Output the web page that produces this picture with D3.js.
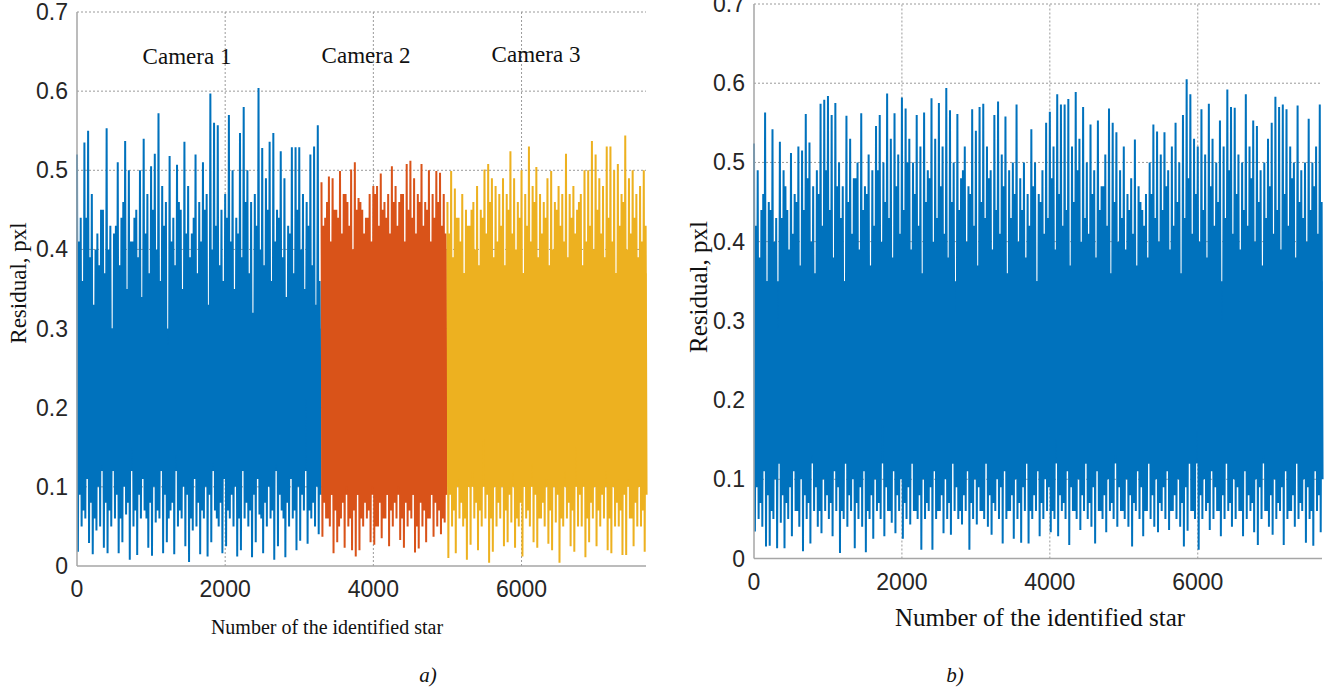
<!DOCTYPE html>
<html>
<head>
<meta charset="utf-8">
<script src="https://cdn.jsdelivr.net/npm/d3@7"></script>
<style>
  html, body { margin: 0; padding: 0; background: #fff; }
  svg { display: block; }
</style>
</head>
<body>
<svg id="fig" width="1325" height="698"></svg>
<script>
// residuals read off in steps of 50 stars:
// xxTop / xxBottom = spike and dip at the start of each step,
// xxTopB / xxBottomB = spike and dip in its second half
var step = 50;
var xMax = 7680;
var yTicks = [0, 0.1, 0.2, 0.3, 0.4, 0.5, 0.6, 0.7];
var xTicks = [0, 2000, 4000, 6000];

// panel a) - three cameras
var cameraNames = ["Camera 1", "Camera 2", "Camera 3"];
var cameraStart = [0, 3300, 5000];
var cameraColors = ["#0072BD", "#D95319", "#EDB120"];
// range that every star of a camera's trace crosses (solid part of the plot)
var denseTop = [0.30, 0.40, 0.37];
var denseBottom = [0.12, 0.09, 0.10];

var cam1Top = [0.52,0.44,0.535,0.55,0.47,0.40,0.38,0.45,0.553,0.43,0.42,0.51,0.44,0.537,0.50,0.41,0.45,0.50,0.54,0.47,
  0.505,0.521,0.572,0.48,0.46,0.518,0.44,0.507,0.45,0.536,0.48,0.42,0.52,0.46,0.51,0.47,0.597,0.56,0.557,0.45,
  0.47,0.57,0.50,0.44,0.547,0.58,0.50,0.46,0.47,0.604,0.528,0.49,0.536,0.547,0.45,0.524,0.49,0.43,0.529,0.529,
  0.529,0.47,0.46,0.52,0.53,0.557];
var cam1Bottom = [0.018,0.05,0.06,0.029,0.015,0.045,0.05,0.023,0.016,0.05,0.06,0.016,0.03,0.065,0.008,0.05,0.014,0.06,0.07,0.023,
  0.013,0.055,0.06,0.016,0.03,0.07,0.015,0.05,0.06,0.025,0.005,0.045,0.05,0.015,0.06,0.012,0.03,0.07,0.05,0.016,
  0.025,0.06,0.05,0.012,0.02,0.06,0.05,0.011,0.03,0.065,0.016,0.05,0.06,0.008,0.025,0.07,0.011,0.05,0.06,0.02,
  0.032,0.07,0.028,0.06,0.05,0.04];
var cam1TopB = [0.41,0.36,0.44,0.39,0.33,0.42,0.45,0.37,0.40,0.30,0.43,0.38,0.46,0.35,0.41,0.44,0.39,0.34,0.42,0.37,
  0.45,0.40,0.36,0.43,0.28,0.41,0.38,0.46,0.35,0.42,0.39,0.44,0.37,0.41,0.45,0.33,0.40,0.43,0.38,0.36,
  0.44,0.41,0.35,0.42,0.39,0.46,0.37,0.32,0.43,0.40,0.38,0.45,0.36,0.41,0.44,0.39,0.34,0.42,0.37,0.45,
  0.40,0.35,0.43,0.38,0.33,0.36];
var cam1BottomB = [0.09,0.07,0.11,0.08,0.06,0.10,0.13,0.08,0.07,0.12,0.09,0.06,0.10,0.08,0.15,0.07,0.09,0.11,0.06,0.08,
  0.10,0.07,0.12,0.09,0.06,0.08,0.14,0.07,0.10,0.09,0.06,0.11,0.08,0.07,0.10,0.09,0.13,0.06,0.08,0.11,
  0.07,0.09,0.10,0.06,0.12,0.08,0.07,0.09,0.11,0.06,0.08,0.10,0.07,0.13,0.09,0.06,0.08,0.11,0.07,0.10,
  0.09,0.21,0.07,0.08,0.10,0.09];

var cam2Top = [0.485,0.44,0.492,0.49,0.45,0.499,0.47,0.46,0.501,0.51,0.465,0.45,0.44,0.47,0.48,0.48,0.496,0.46,0.47,0.505,
  0.48,0.46,0.47,0.508,0.512,0.49,0.47,0.508,0.46,0.50,0.47,0.499,0.497,0.47];
var cam2Bottom = [0.037,0.06,0.05,0.016,0.03,0.06,0.023,0.05,0.02,0.012,0.02,0.05,0.06,0.03,0.027,0.05,0.035,0.06,0.025,0.05,
  0.06,0.033,0.023,0.05,0.06,0.017,0.022,0.05,0.03,0.06,0.037,0.05,0.04,0.055];
var cam2TopB = [0.43,0.46,0.41,0.45,0.44,0.42,0.47,0.43,0.40,0.45,0.46,0.42,0.44,0.41,0.47,0.43,0.45,0.44,0.42,0.46,
  0.43,0.47,0.41,0.45,0.44,0.42,0.46,0.43,0.45,0.41,0.44,0.46,0.43,0.42];
var cam2BottomB = [0.08,0.06,0.09,0.07,0.05,0.08,0.10,0.06,0.07,0.09,0.06,0.08,0.07,0.10,0.05,0.08,0.06,0.09,0.07,0.08,
  0.10,0.06,0.08,0.07,0.09,0.05,0.08,0.07,0.06,0.09,0.08,0.07,0.06,0.09];

var cam3Top = [0.46,0.499,0.477,0.44,0.47,0.45,0.43,0.46,0.48,0.45,0.501,0.508,0.49,0.48,0.47,0.49,0.47,0.524,0.49,0.46,
  0.50,0.47,0.53,0.48,0.504,0.47,0.46,0.49,0.499,0.46,0.48,0.47,0.521,0.47,0.48,0.45,0.47,0.50,0.50,0.537,
  0.52,0.49,0.48,0.53,0.53,0.50,0.508,0.47,0.544,0.49,0.50,0.47,0.48,0.50];
var cam3Bottom = [0.01,0.05,0.016,0.06,0.05,0.008,0.027,0.06,0.02,0.05,0.06,0.004,0.018,0.05,0.06,0.025,0.03,0.055,0.023,0.05,
  0.012,0.06,0.05,0.03,0.023,0.06,0.05,0.028,0.02,0.055,0.004,0.05,0.06,0.025,0.018,0.05,0.05,0.011,0.03,0.06,
  0.025,0.05,0.06,0.02,0.016,0.05,0.05,0.014,0.014,0.06,0.025,0.05,0.05,0.018];
var cam3TopB = [0.42,0.39,0.44,0.41,0.37,0.43,0.45,0.40,0.38,0.44,0.42,0.46,0.39,0.41,0.43,0.38,0.45,0.42,0.40,0.44,
  0.37,0.43,0.41,0.46,0.39,0.42,0.44,0.38,0.40,0.45,0.43,0.41,0.39,0.44,0.42,0.46,0.38,0.41,0.43,0.40,
  0.45,0.42,0.39,0.44,0.41,0.37,0.43,0.46,0.40,0.42,0.44,0.39,0.41,0.43];
var cam3BottomB = [0.09,0.07,0.11,0.08,0.06,0.10,0.12,0.08,0.07,0.16,0.09,0.06,0.10,0.08,0.11,0.07,0.09,0.12,0.06,0.08,
  0.10,0.07,0.13,0.09,0.06,0.08,0.11,0.07,0.10,0.09,0.06,0.12,0.08,0.07,0.15,0.09,0.11,0.06,0.08,0.10,
  0.07,0.09,0.12,0.06,0.10,0.08,0.07,0.09,0.11,0.06,0.08,0.10,0.07,0.09];

// panel b) - all cameras together
var allColor = "#0072BD";
var allDenseTop = 0.35;
var allDenseBottom = 0.12;
var allTop = [0.524,0.49,0.44,0.563,0.45,0.542,0.43,0.526,0.49,0.44,0.512,0.46,0.52,0.515,0.561,0.525,0.47,0.49,0.574,0.579,
  0.584,0.56,0.575,0.50,0.47,0.559,0.53,0.48,0.50,0.562,0.47,0.51,0.49,0.546,0.56,0.50,0.587,0.53,0.562,0.51,
  0.582,0.568,0.53,0.50,0.56,0.52,0.563,0.49,0.581,0.53,0.575,0.52,0.594,0.566,0.50,0.561,0.48,0.52,0.47,0.567,
  0.54,0.57,0.574,0.52,0.49,0.56,0.577,0.51,0.558,0.49,0.50,0.573,0.48,0.50,0.46,0.542,0.50,0.46,0.49,0.55,
  0.564,0.52,0.586,0.573,0.573,0.58,0.52,0.589,0.53,0.57,0.50,0.548,0.49,0.553,0.47,0.51,0.568,0.55,0.538,0.49,
  0.52,0.46,0.48,0.529,0.47,0.44,0.46,0.50,0.548,0.539,0.51,0.538,0.49,0.52,0.55,0.50,0.56,0.605,0.586,0.53,
  0.52,0.567,0.51,0.574,0.53,0.50,0.553,0.52,0.592,0.57,0.569,0.51,0.50,0.586,0.52,0.553,0.546,0.49,0.50,0.53,
  0.55,0.583,0.57,0.573,0.567,0.52,0.50,0.572,0.49,0.50,0.555,0.50,0.52,0.573];
var allBottom = [0.034,0.05,0.04,0.015,0.016,0.05,0.013,0.045,0.013,0.05,0.028,0.06,0.04,0.009,0.05,0.019,0.06,0.04,0.032,0.06,
  0.05,0.028,0.06,0.007,0.05,0.04,0.06,0.013,0.05,0.04,0.008,0.05,0.025,0.06,0.05,0.028,0.06,0.045,0.032,0.06,
  0.025,0.05,0.043,0.06,0.05,0.011,0.05,0.06,0.011,0.05,0.06,0.032,0.05,0.03,0.06,0.05,0.043,0.06,0.011,0.05,
  0.043,0.06,0.05,0.04,0.03,0.06,0.05,0.019,0.05,0.06,0.025,0.05,0.02,0.06,0.019,0.05,0.06,0.028,0.05,0.06,
  0.033,0.05,0.028,0.06,0.05,0.017,0.06,0.05,0.036,0.06,0.05,0.04,0.019,0.06,0.05,0.033,0.06,0.05,0.04,0.06,
  0.05,0.04,0.015,0.06,0.05,0.028,0.06,0.05,0.04,0.033,0.06,0.05,0.036,0.06,0.05,0.04,0.015,0.035,0.06,0.05,
  0.011,0.05,0.06,0.036,0.05,0.06,0.028,0.05,0.06,0.04,0.05,0.06,0.028,0.05,0.06,0.033,0.017,0.05,0.06,0.04,
  0.03,0.05,0.06,0.017,0.05,0.06,0.04,0.05,0.06,0.02,0.05,0.016,0.06,0.033];
var allTopB = [0.42,0.38,0.46,0.35,0.44,0.40,0.29,0.43,0.47,0.39,0.41,0.45,0.37,0.44,0.48,0.40,0.36,0.46,0.42,0.49,
  0.44,0.38,0.47,0.43,0.35,0.45,0.41,0.48,0.39,0.44,0.46,0.37,0.42,0.49,0.40,0.45,0.43,0.38,0.47,0.41,
  0.44,0.50,0.39,0.46,0.42,0.36,0.45,0.48,0.40,0.43,0.47,0.41,0.38,0.45,0.31,0.44,0.49,0.40,0.46,0.42,
  0.37,0.45,0.43,0.48,0.39,0.44,0.41,0.47,0.36,0.43,0.46,0.40,0.44,0.38,0.42,0.47,0.35,0.45,0.41,0.43,
  0.48,0.39,0.46,0.42,0.44,0.37,0.45,0.49,0.40,0.43,0.41,0.46,0.38,0.44,0.47,0.42,0.36,0.45,0.40,0.43,
  0.39,0.44,0.41,0.37,0.45,0.42,0.38,0.46,0.43,0.40,0.44,0.47,0.39,0.42,0.45,0.36,0.43,0.48,0.41,0.46,
  0.40,0.44,0.38,0.47,0.42,0.45,0.30,0.43,0.49,0.41,0.46,0.39,0.44,0.42,0.48,0.40,0.45,0.37,0.43,0.47,
  0.41,0.44,0.39,0.46,0.42,0.48,0.38,0.45,0.43,0.40,0.44,0.47,0.41,0.45];
var allBottomB = [0.09,0.07,0.11,0.08,0.06,0.10,0.12,0.08,0.07,0.09,0.11,0.06,0.10,0.08,0.07,0.13,0.09,0.06,0.10,0.08,
  0.07,0.11,0.09,0.06,0.12,0.08,0.10,0.07,0.09,0.11,0.06,0.08,0.10,0.07,0.17,0.09,0.06,0.11,0.08,0.10,
  0.07,0.09,0.12,0.06,0.08,0.10,0.07,0.09,0.11,0.06,0.08,0.10,0.07,0.12,0.09,0.06,0.08,0.11,0.07,0.10,
  0.09,0.06,0.12,0.08,0.07,0.10,0.09,0.11,0.06,0.08,0.10,0.07,0.09,0.12,0.06,0.08,0.11,0.07,0.10,0.09,
  0.06,0.15,0.08,0.07,0.11,0.09,0.06,0.10,0.08,0.12,0.07,0.09,0.11,0.06,0.08,0.10,0.07,0.13,0.09,0.06,
  0.10,0.08,0.07,0.11,0.09,0.06,0.12,0.08,0.10,0.07,0.09,0.11,0.06,0.08,0.10,0.07,0.09,0.12,0.06,0.16,
  0.08,0.10,0.07,0.11,0.09,0.06,0.08,0.12,0.07,0.10,0.09,0.06,0.11,0.08,0.07,0.10,0.09,0.13,0.06,0.08,
  0.10,0.07,0.09,0.11,0.06,0.08,0.12,0.07,0.10,0.09,0.06,0.11,0.08,0.10];

var svg = d3.select("#fig");
var serif = "'Liberation Serif', 'Times New Roman', serif";
var sans = "'Liberation Sans', Arial, Helvetica, sans-serif";

function toPoints(s) {
  var pts = [];
  s.top.forEach(function(t, i) {
    var x0 = (s.first + i) * step;
    pts.push([x0, t]);
    pts.push([x0 + step / 4, s.bottom[i]]);
    pts.push([x0 + step / 2, s.topB[i]]);
    pts.push([x0 + 3 * step / 4, s.bottomB[i]]);
  });
  return pts;
}

function drawPanel(p) {
  var x = d3.scaleLinear().domain([0, xMax]).range([p.left, p.right]);
  var y = d3.scaleLinear().domain([0, 0.7]).range([p.bottom, p.top]);
  var g = svg.append("g");

  // grid (dotted)
  g.selectAll(".gy").data(yTicks.slice(1)).enter().append("line")
    .attr("x1", p.left).attr("x2", p.right)
    .attr("y1", function(d) { return y(d); }).attr("y2", function(d) { return y(d); })
    .attr("stroke", "#9a9a9a").attr("stroke-width", 1).attr("stroke-dasharray", "2,2");
  g.selectAll(".gx").data(xTicks.slice(1)).enter().append("line")
    .attr("x1", function(d) { return x(d); }).attr("x2", function(d) { return x(d); })
    .attr("y1", p.bottom).attr("y2", p.top)
    .attr("stroke", "#9a9a9a").attr("stroke-width", 1).attr("stroke-dasharray", "2,2");

  var line = d3.line().x(function(d) { return x(d[0]); }).y(function(d) { return y(d[1]); });

  p.series.forEach(function(s) {
    var pts = toPoints(s);
    var x0 = pts[0][0], x1 = pts[pts.length - 1][0];
    g.append("rect")
      .attr("x", x(x0)).attr("width", x(x1) - x(x0))
      .attr("y", y(s.denseTop)).attr("height", y(s.denseBottom) - y(s.denseTop))
      .attr("fill", s.color);
    g.append("path").datum(pts).attr("d", line)
      .attr("fill", "none").attr("stroke", s.color).attr("stroke-width", 2)
      .attr("stroke-linejoin", "bevel");
  });

  // axes
  g.append("line").attr("x1", p.left).attr("x2", p.left).attr("y1", p.bottom).attr("y2", p.top)
    .attr("stroke", "#a6a6a6").attr("stroke-width", 1.5);
  g.append("line").attr("x1", p.left).attr("x2", p.right).attr("y1", p.bottom).attr("y2", p.bottom)
    .attr("stroke", "#a6a6a6").attr("stroke-width", 1.5);

  g.selectAll(".ty").data(yTicks).enter().append("text")
    .attr("x", p.left - 9).attr("y", function(d) { return y(d); }).attr("dy", "0.35em")
    .attr("text-anchor", "end").attr("font-family", sans)
    .attr("font-size", 23).attr("fill", "#262626")
    .text(function(d) { return d === 0 ? "0" : d.toFixed(1); });
  g.selectAll(".tx").data(xTicks).enter().append("text")
    .attr("x", function(d) { return x(d); }).attr("y", p.bottom + 31)
    .attr("text-anchor", "middle").attr("font-family", sans)
    .attr("font-size", 23).attr("fill", "#262626")
    .text(function(d) { return d; });

  g.append("text").attr("x", p.xLabel[0]).attr("y", p.xLabel[1]).attr("text-anchor", "middle")
    .attr("font-family", serif).attr("font-size", p.xLabelSize)
    .attr("fill", "#111").text("Number of the identified star");
  g.append("text").attr("transform", "translate(" + p.yLabel[0] + "," + p.yLabel[1] + ") rotate(-90)")
    .attr("text-anchor", "middle").attr("dy", "0.35em")
    .attr("font-family", serif).attr("font-size", p.yLabelSize)
    .attr("fill", "#111").text("Residual, pxl");
  g.append("text").attr("x", p.tag[0]).attr("y", p.tag[1]).attr("text-anchor", "middle")
    .attr("font-family", serif).attr("font-style", "italic")
    .attr("font-size", 21).attr("fill", "#111").text(p.tagText);

  return x;
}

var camTops = [cam1Top, cam2Top, cam3Top];
var camBottoms = [cam1Bottom, cam2Bottom, cam3Bottom];
var camTopsB = [cam1TopB, cam2TopB, cam3TopB];
var camBottomsB = [cam1BottomB, cam2BottomB, cam3BottomB];

drawPanel({
  left: 77, right: 646, top: 12, bottom: 566,
  xLabel: [327, 634], yLabel: [18, 283], xLabelSize: 20, yLabelSize: 23,
  tag: [428, 682], tagText: "a)",
  series: camTops.map(function(t, i) {
    return { top: t, bottom: camBottoms[i], topB: camTopsB[i], bottomB: camBottomsB[i],
             first: cameraStart[i] / step, color: cameraColors[i],
             denseTop: denseTop[i], denseBottom: denseBottom[i] };
  })
});

svg.selectAll(".cam").data(cameraNames).enter().append("text")
  .attr("x", function(d, i) { return [187, 366, 536][i]; })
  .attr("y", function(d, i) { return [64, 63, 62][i]; })
  .attr("text-anchor", "middle").attr("font-family", serif)
  .attr("font-size", 23).attr("fill", "#111").text(function(d) { return d; });

drawPanel({
  left: 754, right: 1322, top: 4, bottom: 558.5,
  xLabel: [1040, 626], yLabel: [698, 287], xLabelSize: 25, yLabelSize: 25,
  tag: [955, 682], tagText: "b)",
  series: [{ top: allTop, bottom: allBottom, topB: allTopB, bottomB: allBottomB,
             first: 0, color: allColor, denseTop: allDenseTop, denseBottom: allDenseBottom }]
});
</script>
</body>
</html>
